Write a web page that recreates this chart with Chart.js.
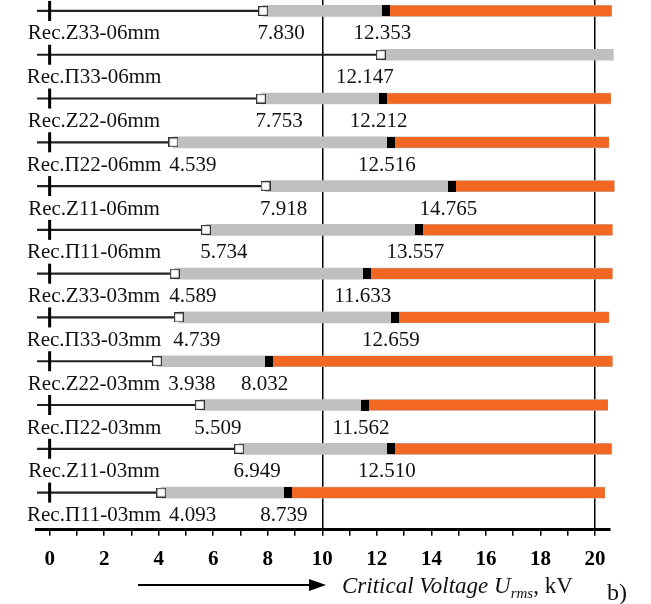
<!DOCTYPE html>
<html>
<head>
<meta charset="utf-8">
<script src="https://cdn.jsdelivr.net/npm/chart.js@4.4.0/dist/chart.umd.min.js"></script>
<style>
  html, body { margin: 0; padding: 0; background: #fff; }
  #wrap { width: 651px; height: 604px; }
</style>
</head>
<body>
<div id="wrap"><canvas id="chart" width="651" height="604"></canvas></div>
<script>
// rows, top to bottom
const categories = [
  'Rec.Z33-06mm', 'Rec.Π33-06mm', 'Rec.Z22-06mm', 'Rec.Π22-06mm',
  'Rec.Z11-06mm', 'Rec.Π11-06mm', 'Rec.Z33-03mm', 'Rec.Π33-03mm',
  'Rec.Z22-03mm', 'Rec.Π22-03mm', 'Rec.Z11-03mm', 'Rec.Π11-03mm'
];
// white marker (start of grey bar), kV
const lowerVoltage = [7.830, 12.147, 7.753, 4.539, 7.918, 5.734, 4.589, 4.739, 3.938, 5.509, 6.949, 4.093];
// black marker (start of orange bar), kV; Π33-06mm has none
const upperVoltage = [12.353, null, 12.212, 12.516, 14.765, 13.557, 11.633, 12.659, 8.032, 11.562, 12.510, 8.739];
// where the bars stop on the right
const barEnd = [20.6, 20.67, 20.57, 20.5, 20.7, 20.63, 20.63, 20.5, 20.63, 20.46, 20.6, 20.35];
const lineStart = -0.45;
const xTickLabels = [0, 2, 4, 6, 8, 10, 12, 14, 16, 18, 20];
const gridAt = [10, 20];

const GREY = '#bfbfbf';
const ORANGE = '#f26722';
const SERIF = '"Liberation Serif", "Times New Roman", serif';

function markerImage(w, h, fill, stroke) {
  const c = document.createElement('canvas');
  c.width = w; c.height = h;
  const g = c.getContext('2d');
  g.fillStyle = fill;
  g.fillRect(0, 0, w, h);
  if (stroke) {
    g.strokeStyle = stroke;
    g.lineWidth = 1.2;
    g.strokeRect(0.6, 0.6, w - 1.2, h - 1.2);
  }
  return c;
}
const whiteBox = markerImage(10, 10, '#fff', '#333');
const blackBox = markerImage(8, 11, '#000');

const rows = categories.map((c, i) => i);

const annotate = {
  id: 'annotate',
  afterDatasetsDraw(chart) {
    const { ctx, chartArea, scales: { x, y } } = chart;
    ctx.save();
    // zero marks on each row line
    ctx.fillStyle = '#000';
    const x0 = x.getPixelForValue(0);
    rows.forEach(i => {
      const py = y.getPixelForValue(i);
      ctx.fillRect(x0 - 1.5, py - 10, 3, 20);
    });
    // row names and values under each row
    ctx.font = '21px ' + SERIF;
    ctx.textBaseline = 'middle';
    ctx.textAlign = 'center';
    ctx.fillStyle = '#111';
    const nameX = chartArea.left + 58;
    rows.forEach(i => {
      const py = y.getPixelForValue(i) + 23;
      ctx.fillText(categories[i], nameX, py);
      const nameRight = nameX + ctx.measureText(categories[i]).width / 2;
      const hasUpper = upperVoltage[i] !== null;
      const p1 = x.getPixelForValue(lowerVoltage[i]);
      const txt1 = lowerVoltage[i].toFixed(3);
      const half1 = ctx.measureText(txt1).width / 2;
      const c1 = hasUpper ? Math.max(p1 + 18, nameRight + 8 + half1) : p1 - 16;
      ctx.fillText(txt1, c1, py);
      if (hasUpper) {
        ctx.fillText(upperVoltage[i].toFixed(3), x.getPixelForValue(upperVoltage[i]) - 4, py);
      }
    });
    ctx.restore();
  },
  afterDraw(chart) {
    const { ctx } = chart;
    ctx.save();
    // arrow
    ctx.strokeStyle = '#000';
    ctx.fillStyle = '#000';
    ctx.lineWidth = 2;
    ctx.beginPath();
    ctx.moveTo(138, 585);
    ctx.lineTo(312, 585);
    ctx.stroke();
    ctx.beginPath();
    ctx.moveTo(326, 585);
    ctx.lineTo(309, 579);
    ctx.lineTo(309, 591);
    ctx.closePath();
    ctx.fill();
    // axis title
    ctx.fillStyle = '#111';
    ctx.textBaseline = 'alphabetic';
    ctx.textAlign = 'left';
    let tx = 342;
    const base = 593;
    ctx.font = 'italic 23px ' + SERIF;
    ctx.fillText('Critical Voltage U', tx, base);
    tx += ctx.measureText('Critical Voltage U').width;
    ctx.font = 'italic 15px ' + SERIF;
    ctx.fillText('rms', tx, base + 5);
    tx += ctx.measureText('rms').width;
    ctx.font = '23px ' + SERIF;
    ctx.fillText(', kV', tx, base);
    ctx.font = '24px ' + SERIF;
    ctx.fillText('b)', 607, 600);
    ctx.restore();
  }
};

new Chart(document.getElementById('chart'), {
  type: 'bar',
  data: {
    datasets: [
      {
        type: 'scatter',
        data: rows.filter(i => upperVoltage[i] !== null).map(i => ({ x: upperVoltage[i], y: i })),
        pointStyle: blackBox,
        order: 0,
        clip: false
      },
      {
        type: 'scatter',
        data: rows.map(i => ({ x: lowerVoltage[i], y: i })),
        pointStyle: whiteBox,
        order: 1,
        clip: false
      },
      {
        data: rows.filter(i => upperVoltage[i] !== null).map(i => ({ y: i, x: [upperVoltage[i], barEnd[i]] })),
        backgroundColor: ORANGE,
        barThickness: 10,
        grouped: false,
        order: 2,
        clip: false
      },
      {
        data: rows.map(i => ({ y: i, x: [lowerVoltage[i], barEnd[i]] })),
        backgroundColor: GREY,
        barThickness: 11,
        grouped: false,
        order: 3,
        clip: false
      },
      {
        data: rows.map(i => ({ y: i, x: [lineStart, lowerVoltage[i]] })),
        backgroundColor: '#222',
        barThickness: 1.5,
        grouped: false,
        order: 4,
        clip: false
      }
    ]
  },
  options: {
    indexAxis: 'y',
    responsive: false,
    animation: false,
    events: [],
    layout: { autoPadding: false, padding: { left: 36, right: 41, top: 0, bottom: 21 } },
    plugins: { legend: { display: false }, tooltip: { enabled: false } },
    scales: {
      x: {
        type: 'linear',
        position: 'bottom',
        offset: false,
        beginAtZero: false,
        min: -0.5,
        max: 20.55,
        border: { display: true, color: '#000', width: 3 },
        grid: {
          offset: false,
          color: c => (c.tick && gridAt.includes(c.tick.value)) ? '#000' : 'rgba(0,0,0,0)',
          lineWidth: 1.5,
          tickColor: '#000',
          tickWidth: 1.5,
          tickLength: 6,
          drawTicks: true
        },
        ticks: {
          stepSize: 1,
          includeBounds: false,
          autoSkip: false,
          maxRotation: 0,
          padding: 11,
          color: '#000',
          font: { family: SERIF, size: 21, weight: 'bold' },
          callback: v => xTickLabels.includes(v) ? String(v) : ''
        }
      },
      y: {
        type: 'linear',
        display: false,
        offset: false,
        beginAtZero: false,
        grid: { offset: false },
        reverse: true,
        min: -0.25,
        max: 11.85
      }
    }
  },
  plugins: [annotate]
});
</script>
</body>
</html>
